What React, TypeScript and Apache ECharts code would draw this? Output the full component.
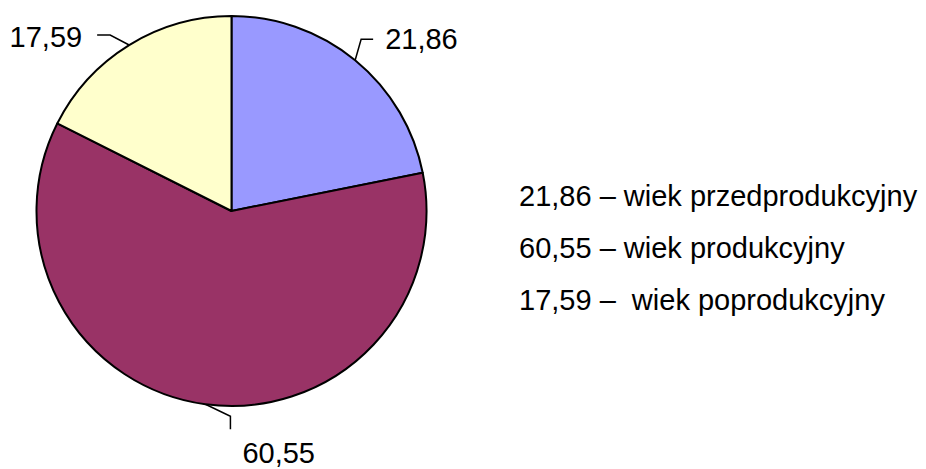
import React, { useEffect, useRef } from "react";
import * as echarts from "echarts";

const categories = ["wiek przedprodukcyjny", "wiek produkcyjny", "wiek poprodukcyjny"];
const values = [21.86, 60.55, 17.59];
const valueLabels = ["21,86", "60,55", "17,59"];
const legendLines = [
  "21,86 – wiek przedprodukcyjny",
  "60,55 – wiek produkcyjny",
  "17,59 –  wiek poprodukcyjny",
];
const colors = ["#9999FF", "#993366", "#FFFFCC"];

const FONT = "'Liberation Sans', Arial, sans-serif";
const CX = 231.5;
const CY = 211;
const R = 195;

// label layout offsets relative to the slice's edge point
const lineOffsets = [
  [[6, -21], [18, -21]],
  [[25, 12], [25, 25]],
  [[-19, -10], [-32, -10]],
];
const textOffsets = [
  { dx: 30, dy: -21.5, align: "left" },
  { dx: 37, dy: 49, align: "left" },
  { dx: -47, dy: -8, align: "right" },
];

function edgePoint(i: number): number[] {
  const total = values.reduce((a, b) => a + b, 0);
  let before = 0;
  for (let k = 0; k < i; k++) before += values[k];
  const mid = ((before + values[i] / 2) / total) * Math.PI * 2;
  const ang = Math.PI / 2 - mid;
  return [CX + R * Math.cos(ang), CY - R * Math.sin(ang)];
}

export default function App() {
  const ref = useRef<HTMLDivElement>(null);
  useEffect(() => {
    document.body.style.margin = "0";
    const chart = echarts.init(ref.current!, null, { renderer: "svg" });
    chart.setOption({
      animation: false,
      backgroundColor: "#ffffff",
      graphic: legendLines.map((t, i) => ({
        type: "text",
        x: 519,
        y: 196 + 52 * i,
        style: {
          text: t,
          font: `29px ${FONT}`,
          fill: "#000",
          verticalAlign: "middle",
          align: "left",
        },
      })),
      series: [
        {
          type: "pie",
          center: [CX, CY],
          radius: R,
          startAngle: 90,
          clockwise: true,
          silent: true,
          data: categories.map((c, i) => ({
            name: c,
            value: values[i],
            itemStyle: { color: colors[i] },
          })),
          itemStyle: { borderColor: "#000", borderWidth: 2 },
          label: {
            show: true,
            position: "outside",
            formatter: (p: any) => valueLabels[p.dataIndex],
            fontSize: 29,
            fontFamily: FONT,
            color: "#000",
          },
          labelLine: {
            show: true,
            length: 15,
            length2: 12,
            lineStyle: { color: "#000", width: 1.5 },
          },
          labelLayout: (params: any) => {
            const i = params.dataIndex;
            const p0 =
              params.labelLinePoints && params.labelLinePoints[0]
                ? params.labelLinePoints[0]
                : edgePoint(i);
            const lo = lineOffsets[i];
            const to = textOffsets[i];
            return {
              x: p0[0] + to.dx,
              y: p0[1] + to.dy,
              align: to.align,
              verticalAlign: "middle",
              labelLinePoints: [
                [p0[0], p0[1]],
                [p0[0] + lo[0][0], p0[1] + lo[0][1]],
                [p0[0] + lo[1][0], p0[1] + lo[1][1]],
              ],
            };
          },
        },
      ],
    });
    return () => chart.dispose();
  }, []);
  return (
    <div
      ref={ref}
      style={{ position: "absolute", left: 0, top: 0, width: 926, height: 469 }}
    />
  );
}
